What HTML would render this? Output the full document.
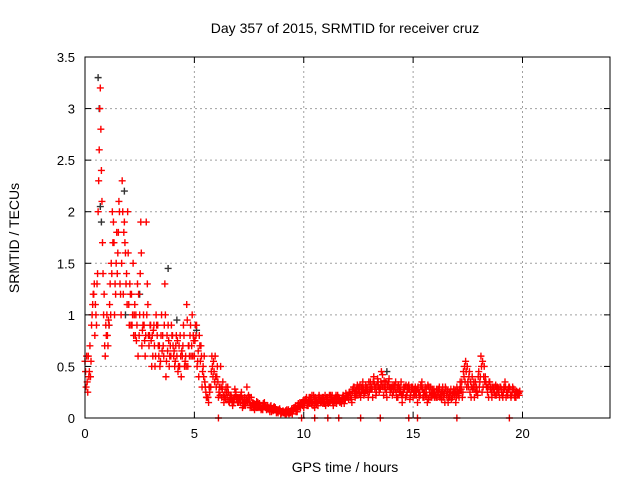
<!DOCTYPE html>
<html><head><meta charset="utf-8"><style>
body{margin:0;background:#fff}
svg{display:block;font-family:"Liberation Sans",sans-serif}
</style></head><body>
<svg id="chart" width="640" height="480" viewBox="0 0 640 480">
<rect width="640" height="480" fill="#fff"/>
<text x="345" y="33" font-size="14" text-anchor="middle">Day 357 of 2015, SRMTID for receiver cruz</text>
<text x="345" y="472" font-size="14" text-anchor="middle">GPS time / hours</text>
<text transform="translate(19,238) rotate(-90)" font-size="14" text-anchor="middle">SRMTID / TECUs</text>
<g id="grid"></g><g id="marks"></g><g id="axes"></g>
</svg>
<script>
const xTicks=[0,5,10,15,20];
const yTicks=[0,0.5,1,1.5,2,2.5,3,3.5];
const yTickLabels=["0","0.5","1","1.5","2","2.5","3","3.5"];
const seriesA=[0.55,0.35,0.45,0.9,1.2,1.0,2.0,3.2,1.7,0.7,
1.0,0.9,1.5,1.9,1.2,1.6,1.3,2.3,1.9,1.4,
1.1,0.9,1.5,0.8,1.3,1.0,0.7,0.9,1.9,0.8,
0.9,0.6,0.5,0.8,0.7,1.0,0.6,0.4,0.9,0.7,
0.8,0.5,0.6,0.7,0.4,0.9,0.6,0.5,0.8,1.0,
0.6,0.9,0.4,0.7,0.5,0.3,0.2,0.25,0.6,0.45,
0.3,0.2,0.5,0.35,0.25,0.2,0.15,0.2,0.15,0.25,
0.2,0.15,0.1,0.2,0.3,0.15,0.2,0.1,0.12,0.15,
0.12,0.1,0.15,0.08,0.1,0.12,0.07,0.1,0.06,0.09,
0.05,0.06,0.04,0.08,0.05,0.07,0.1,0.06,0.12,0.15,
0.1,0.18,0.12,0.2,0.15,0.1,0.18,0.22,0.15,0.2,
0.12,0.2,0.15,0.22,0.18,0.14,0.2,0.16,0.22,0.18,
0.2,0.25,0.15,0.3,0.22,0.28,0.2,0.35,0.25,0.3,
0.25,0.3,0.4,0.22,0.35,0.28,0.42,0.3,0.2,0.38,
0.3,0.25,0.35,0.2,0.3,0.15,0.28,0.22,0.32,0.25,
0.2,0.3,0.15,0.25,0.35,0.2,0.28,0.18,0.3,0.22,
0.25,0.2,0.3,0.18,0.22,0.28,0.15,0.25,0.2,0.22,
0.3,0.2,0.28,0.45,0.55,0.35,0.25,0.4,0.2,0.3,
0.45,0.6,0.3,0.4,0.25,0.35,0.2,0.3,0.22,0.28,
0.3,0.2,0.35,0.25,0.3,0.22,0.28,0.2,0.25];
const seriesB=[0.3,0.6,0.4,1.1,0.8,1.3,2.6,2.4,1.0,0.9,
0.7,1.3,2.0,1.0,1.8,2.1,1.0,1.2,1.6,2.0,
1.3,0.9,1.0,0.75,1.2,1.9,0.9,0.6,1.3,0.8,
0.5,0.9,1.0,0.7,0.55,0.8,1.3,0.8,0.5,0.9,
0.6,0.7,0.45,0.8,0.6,0.5,1.1,0.7,0.6,0.8,
0.9,0.55,0.7,0.3,0.6,0.2,0.15,0.3,0.4,0.6,
0.5,0.3,0.2,0.15,0.3,0.25,0.18,0.12,0.28,0.2,
0.18,0.25,0.12,0.15,0.2,0.1,0.14,0.08,0.16,0.1,
0.08,0.14,0.1,0.12,0.06,0.09,0.11,0.05,0.08,0.04,
0.07,0.04,0.06,0.05,0.09,0.1,0.06,0.14,0.1,0.12,
0.16,0.12,0.2,0.14,0.22,0.16,0.12,0.18,0.2,0.14,
0.2,0.15,0.18,0.12,0.2,0.22,0.15,0.18,0.14,0.2,
0.18,0.22,0.28,0.2,0.32,0.24,0.3,0.22,0.28,0.2,
0.35,0.2,0.28,0.32,0.25,0.45,0.22,0.35,0.3,0.25,
0.22,0.32,0.2,0.28,0.35,0.25,0.2,0.3,0.18,0.28,
0.28,0.22,0.25,0.32,0.2,0.3,0.15,0.25,0.2,0.28,
0.2,0.28,0.22,0.3,0.15,0.2,0.25,0.18,0.28,0.15,
0.22,0.35,0.2,0.5,0.3,0.4,0.2,0.3,0.35,0.22,
0.35,0.25,0.5,0.3,0.2,0.3,0.25,0.22,0.3,0.2,
0.25,0.3,0.2,0.28,0.22,0.3,0.2,0.25,0.22];
const seriesC=[0.45,0.25,0.7,1.0,1.3,0.9,2.3,2.8,1.4,0.6,
0.8,1.1,1.4,1.7,1.5,1.8,1.2,2.0,1.7,1.1,
0.9,1.2,0.8,1.0,0.6,1.4,0.85,0.75,1.0,0.7,
0.75,0.85,0.6,0.9,0.5,0.65,0.9,0.55,0.75,0.6,
0.7,0.55,0.75,0.5,0.65,0.8,0.5,0.7,0.9,0.6,
0.75,0.5,0.8,0.6,0.4,0.25,0.2,0.3,0.5,0.35,
0.4,0.25,0.3,0.22,0.18,0.3,0.22,0.16,0.2,0.18,
0.15,0.22,0.18,0.12,0.16,0.2,0.1,0.14,0.1,0.12,
0.1,0.08,0.12,0.1,0.08,0.06,0.1,0.08,0.05,0.07,
0.06,0.05,0.08,0.04,0.06,0.08,0.12,0.1,0.15,0.13,
0.14,0.2,0.16,0.18,0.12,0.2,0.15,0.2,0.18,0.16,
0.18,0.14,0.22,0.16,0.15,0.2,0.18,0.14,0.2,0.24,
0.22,0.2,0.26,0.24,0.28,0.3,0.25,0.28,0.32,0.26,
0.3,0.28,0.33,0.25,0.3,0.35,0.3,0.28,0.32,0.3,
0.28,0.3,0.25,0.32,0.26,0.22,0.3,0.25,0.28,0.3,
0.25,0.26,0.3,0.22,0.28,0.25,0.22,0.3,0.25,0.24,
0.22,0.25,0.2,0.26,0.24,0.22,0.2,0.28,0.24,0.26,
0.26,0.28,0.35,0.4,0.45,0.3,0.35,0.28,0.3,0.26,
0.3,0.5,0.4,0.35,0.3,0.28,0.3,0.25,0.28,0.25,
0.28,0.25,0.3,0.22,0.28,0.25,0.22,0.26,0.24];
const seriesD=[0.6,0.4,0.55,1.2,1.1,1.4,3.0,2.1,1.2,0.8,
0.95,1.0,1.7,1.3,1.4,2.0,1.5,1.8,1.3,1.6,
1.2,1.0,1.1,0.9,0.8,1.6,1.0,0.8,1.1,0.9,
0.8,0.7,0.9,0.6,0.8,0.7,1.0,0.65,0.6,0.8,
0.65,0.8,0.5,0.6,0.7,0.55,0.95,0.6,0.7,0.75,
0.8,0.65,0.55,0.45,0.35,0.2,0.3,0.45,0.55,0.4,
0.35,0.22,0.28,0.2,0.25,0.16,0.22,0.18,0.22,0.15,
0.2,0.18,0.14,0.18,0.22,0.12,0.15,0.12,0.1,0.14,
0.09,0.12,0.1,0.09,0.11,0.08,0.09,0.06,0.07,0.05,
0.05,0.07,0.05,0.06,0.04,0.09,0.08,0.12,0.14,0.17,
0.18,0.15,0.14,0.22,0.18,0.14,0.2,0.16,0.14,0.22,
0.16,0.22,0.2,0.18,0.22,0.18,0.16,0.2,0.18,0.22,
0.25,0.18,0.3,0.26,0.22,0.32,0.28,0.24,0.3,0.35,
0.28,0.35,0.3,0.38,0.28,0.32,0.36,0.25,0.35,0.28,
0.32,0.28,0.3,0.25,0.22,0.3,0.32,0.28,0.22,0.3,
0.22,0.28,0.2,0.3,0.25,0.22,0.32,0.2,0.28,0.2,
0.28,0.22,0.25,0.2,0.3,0.26,0.2,0.22,0.25,0.2,
0.24,0.3,0.25,0.35,0.5,0.45,0.3,0.35,0.25,0.4,
0.4,0.55,0.35,0.3,0.35,0.25,0.28,0.32,0.25,0.3,
0.22,0.28,0.25,0.3,0.2,0.28,0.25,0.22,0.26];
const blackTimes=[0.6,0.65,0.7,0.75,1.1,1.8,1.85,2.5,3.8,4.2,5.1,13.8];
const blackValues=[3.3,3.0,2.05,1.9,0.9,2.2,1.0,1.2,1.45,0.95,0.85,0.45];
const zeroTimes=[6.1,9.9,10.5,11.1,11.6,12.6,13.5,14.8,15.2,17.0,19.4];
const X0=85,X1=610,Y0=418,Y1=57,XMAX=24,YMAX=3.5;
const xs=t=>X0+(X1-X0)*t/XMAX;
const ys=v=>Y0-(Y0-Y1)*v/YMAX;
const NS="http://www.w3.org/2000/svg";
function mk(tag,attrs,parent){const e=document.createElementNS(NS,tag);for(const k in attrs)e.setAttribute(k,attrs[k]);parent.appendChild(e);return e;}
const grid=document.getElementById('grid'),marks=document.getElementById('marks'),axes=document.getElementById('axes');
xTicks.forEach((t,i)=>{
  if(t>0){const g=mk('line',{x1:xs(t),x2:xs(t),y1:Y0,y2:Y1,stroke:'#a0a0a0','stroke-dasharray':'2,3'},grid);
  
  }
  const lb=mk('text',{x:xs(t),y:Y0+20,'font-size':13,'text-anchor':'middle'},axes);lb.textContent=String(t);
  
  
  mk('line',{x1:xs(t),x2:xs(t),y1:Y0,y2:Y0-6,stroke:'#000'},axes);
  mk('line',{x1:xs(t),x2:xs(t),y1:Y1,y2:Y1+6,stroke:'#000'},axes);
});
yTicks.forEach((v,i)=>{
  if(v>0&&v<YMAX){const g=mk('line',{x1:X0,x2:X1,y1:ys(v),y2:ys(v),stroke:'#a0a0a0','stroke-dasharray':'2,3'},grid);
  
  }
  const lb=mk('text',{x:X0-10,y:ys(v)+5,'font-size':13,'text-anchor':'end'},axes);lb.textContent=yTickLabels[i];
  
  
  mk('line',{x1:X0,x2:X0+6,y1:ys(v),y2:ys(v),stroke:'#000'},axes);
  mk('line',{x1:X1,x2:X1-6,y1:ys(v),y2:ys(v),stroke:'#000'},axes);
});
const frame=mk('rect',{x:X0,y:Y1,width:X1-X0,height:Y0-Y1,fill:'none',stroke:'#000'},axes);


function plus(t,v,color,name){
  const x=xs(t),y=ys(v);
  const p=mk('path',{d:`M${x-3.5},${y}h7M${x},${y-3.5}v7`,stroke:color,'stroke-width':1.4,fill:'none'},marks);
  
  
}
blackTimes.forEach((t,i)=>plus(t,blackValues[i],'#333','black-point'));
seriesA.forEach((v,i)=>plus(i*0.1,v,'#f00','srmtid-point'));
seriesB.forEach((v,i)=>plus(i*0.1+0.05,v,'#f00','srmtid-point'));
seriesC.forEach((v,i)=>plus(i*0.1+0.025,v,'#f00','srmtid-point'));
seriesD.forEach((v,i)=>plus(i*0.1+0.075,v,'#f00','srmtid-point'));
zeroTimes.forEach(t=>plus(t,0,'#f00','zero-point'));
</script>
</body></html>
